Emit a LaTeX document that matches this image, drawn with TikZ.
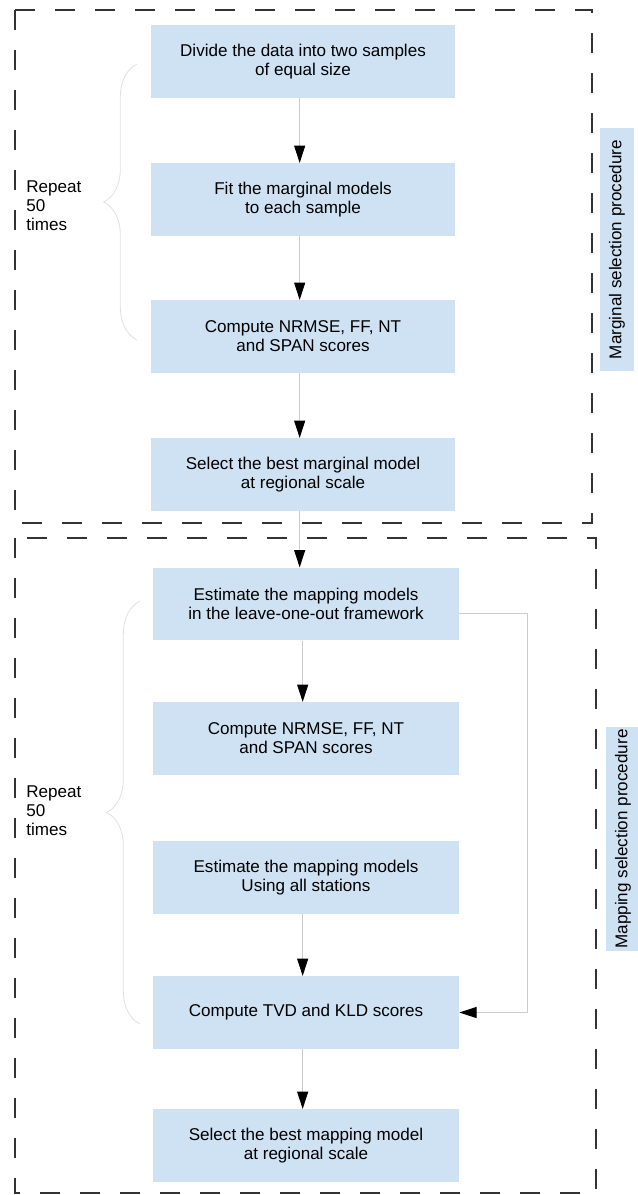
\documentclass[tikz,border=0pt]{standalone}
\usepackage{fontspec}
\setmainfont{Liberation Sans}
\usetikzlibrary{arrows.meta,decorations.pathreplacing}
\definecolor{boxblue}{HTML}{CFE2F3}
\definecolor{linkgray}{HTML}{CCCCCC}
\definecolor{bracegray}{HTML}{E0E0E0}
\definecolor{framegray}{HTML}{333333}

\begin{document}
\begin{tikzpicture}[x=0.75pt,y=-0.75pt,
  every node/.style={font=\fontsize{12.8pt}{14.25pt}\selectfont},
  stepbox/.style={fill=boxblue,align=center,minimum width=228pt,minimum height=54.5pt,inner sep=0pt},
  sidelabel/.style={fill=boxblue,rotate=90,minimum height=25pt,inner sep=0pt},
  link/.style={linkgray,line width=0.75pt,-{Triangle[width=8.25pt,length=13pt,color=black]}},
  frame/.style={framegray,line width=1.5pt,dash pattern=on 15pt off 15pt},
  repbrace/.style={bracegray,line width=0.6pt,decorate,decoration={brace,amplitude=25pt}}]
  \useasboundingbox (0,0) rectangle (638,1195);
  % the two dashed frames
  \draw[frame] (15,10) rectangle (592,523);
  \draw[frame] (15,538) rectangle (596,1193);
  % marginal selection
  \node[stepbox] (divide) at (303,61.5) {Divide the data into two samples\\of equal size};
  \node[stepbox] (fitm) at (303,199.5) {Fit the marginal models\\to each sample};
  \node[stepbox] (scoremarg) at (303,336.5) {Compute NRMSE, FF, NT\\and SPAN scores};
  \node[stepbox] (bestmarg) at (303,474.5) {Select the best marginal model\\at regional scale};
  \node[sidelabel,minimum width=182pt] (margproc) at (617,249.5) {Marginal selection procedure};
  \node[align=left,anchor=west,inner sep=0pt] (rep1) at (26,206) {Repeat\\50\\times};
  \draw[repbrace] (137,340) -- (137,64);
  % mapping selection
  \node[stepbox,minimum width=229.5pt] (estloo) at (306,604) {Estimate the mapping models\\in the leave-one-out framework};
  \node[stepbox,minimum width=229.5pt] (scoremap) at (306,738.5) {Compute NRMSE, FF, NT\\and SPAN scores};
  \node[stepbox,minimum width=229.5pt] (estall) at (306,877.5) {Estimate the mapping models\\Using all stations};
  \node[stepbox,minimum width=229.5pt] (scoretk) at (306,1012.5) {Compute TVD and KLD scores};
  \node[stepbox,minimum width=229.5pt] (bestmap) at (306,1145.5) {Select the best mapping model\\at regional scale};
  \node[sidelabel,minimum width=168pt] (mapproc) at (623,839) {Mapping selection procedure};
  \node[align=left,anchor=west,inner sep=0pt] (rep2) at (26,811) {Repeat\\50\\times};
  \draw[repbrace] (140,1024) -- (140,601);
  % arrows
  \foreach \a/\b in {divide/fitm,fitm/scoremarg,scoremarg/bestmarg,bestmarg/estloo,estloo/scoremap,estall/scoretk,scoretk/bestmap}
    \draw[link] ([xshift=-2.5pt]\a.south) -- ([xshift=-2.5pt]\a.south |- \b.north);
  \coordinate (looptop) at (527,613);
  \draw[link] (estloo.east |- looptop) -- (looptop) |- (scoretk.east);
\end{tikzpicture}
\end{document}
